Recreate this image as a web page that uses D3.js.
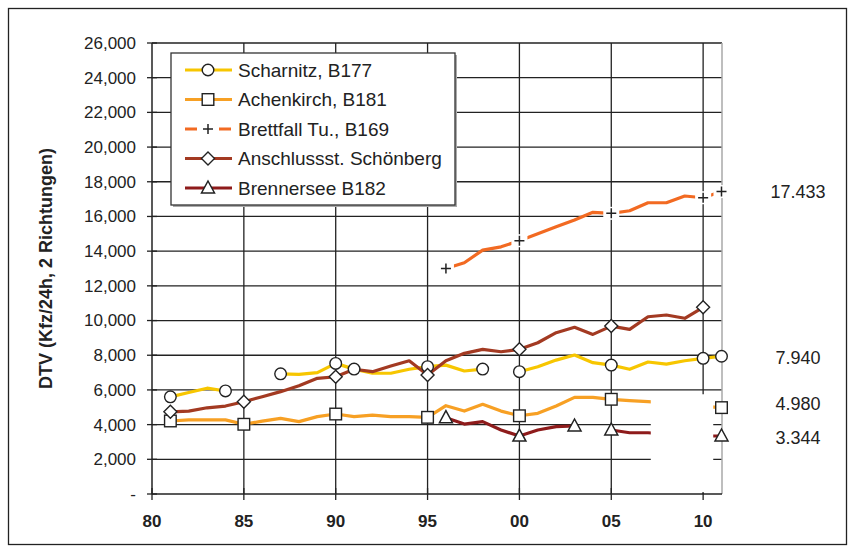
<!DOCTYPE html>
<html>
<head>
<meta charset="utf-8">
<script src="https://cdn.jsdelivr.net/npm/d3@7"></script>
<style>
  body { margin: 0; background: #fff; }
  svg text { font-family: "Liberation Sans", Arial, sans-serif; fill: #222; }
</style>
</head>
<body>
<svg id="chart" width="855" height="553"></svg>
<script>
// categories (years)
var years = [1981, 1982, 1983, 1984, 1985, 1986, 1987, 1988, 1989, 1990,
  1991, 1992, 1993, 1994, 1995, 1996, 1997, 1998, 1999, 2000,
  2001, 2002, 2003, 2004, 2005, 2006, 2007, 2008, 2009, 2010, 2011];

var scharnitz = [5600, 5850, 6100, 5940, null, null, 6930, 6900, 7000, 7530,
  7200, 6960, 6960, 7190, 7340, 7430, 7090, 7200, null, 7050,
  7340, 7720, 8010, 7570, 7430, 7190, 7610, 7490, 7680, 7820, 7940];
var achenkirch = [4210, 4270, 4270, 4270, 4020, 4200, 4360, 4170, 4460, 4610,
  4460, 4550, 4460, 4460, 4420, 5090, 4780, 5170, 4780, 4510,
  4650, 5070, 5570, 5570, 5460, 5380, 5320, 5250, 5150, 5050, 4980];
var brettfall = [null, null, null, null, null, null, null, null, null, null,
  null, null, null, null, null, 13000, 13330, 14060, 14250, 14600,
  15000, 15400, 15800, 16240, 16180, 16330, 16790, 16790, 17180, 17080, 17433];
var schoenberg = [4740, 4780, 4970, 5070, 5320, 5610, 5900, 6240, 6670, 6760,
  7190, 7050, 7380, 7680, 6860, 7680, 8110, 8340, 8200, 8340,
  8720, 9300, 9610, 9200, 9680, 9490, 10220, 10320, 10130, 10760, null];
var brennersee = [null, null, null, null, null, null, null, null, null, null,
  null, null, null, null, null, 4400, 4030, 4170, 3690, 3340,
  3690, 3880, 3920, null, 3690, 3530, 3530, 3450, 3400, 3344, 3344];

// years that carry a marker
var scharnitzMarks = [1981, 1984, 1987, 1990, 1991, 1995, 1998, 2000, 2005, 2010, 2011];
var achenkirchMarks = [1981, 1985, 1990, 1995, 2000, 2005, 2011];
var brettfallMarks = [1996, 2000, 2005, 2010, 2011];
var schoenbergMarks = [1981, 1985, 1990, 1995, 2000, 2005, 2010];
var brennerseeMarks = [1996, 2000, 2003, 2005, 2011];

var seriesNames = ["Scharnitz, B177", "Achenkirch, B181", "Brettfall Tu., B169",
  "Anschlussst. Schönberg", "Brennersee B182"];

// right-hand value labels
var endLabels = ["17.433", "7.940", "4.980", "3.344"];
var endValues = [17433, 7940, 4980, 3344];
var endNudge = [0, 1, -4, 2];

var yTicks = [0, 2000, 4000, 6000, 8000, 10000, 12000, 14000, 16000, 18000,
  20000, 22000, 24000, 26000];
var xTicks = [1980, 1985, 1990, 1995, 2000, 2005, 2010];
var xTickLabels = ["80", "85", "90", "95", "00", "05", "10"];

var series = [
  { name: seriesNames[0], values: scharnitz, marks: scharnitzMarks, color: "#f7c600", shape: "circle" },
  { name: seriesNames[1], values: achenkirch, marks: achenkirchMarks, color: "#f7a024", shape: "square" },
  { name: seriesNames[2], values: brettfall, marks: brettfallMarks, color: "#f26a22", shape: "plus" },
  { name: seriesNames[3], values: schoenberg, marks: schoenbergMarks, color: "#a33a22", shape: "diamond" },
  { name: seriesNames[4], values: brennersee, marks: brennerseeMarks, color: "#8e1b1b", shape: "triangle" }
];

var svg = d3.select("#chart");

var plotL = 152, plotR = 722, plotT = 43, plotB = 494;

var xScale = d3.scaleLinear().domain([1980, 2011]).range([plotL, plotR - 0.5]);
var yScale = d3.scaleLinear().domain([0, 26000]).range([plotB, plotT]);

// outer frame
svg.append("rect")
  .attr("x", 8.5).attr("y", 8.5)
  .attr("width", 838).attr("height", 536)
  .attr("fill", "none").attr("stroke", "#222").attr("stroke-width", 1.3);

var grid = svg.append("g").attr("class", "grid");

grid.selectAll("line.h")
  .data(yTicks.filter(function (d) { return d > 0; }))
  .enter().append("line")
  .attr("class", "h")
  .attr("x1", plotL).attr("x2", plotR)
  .attr("y1", function (d) { return yScale(d); })
  .attr("y2", function (d) { return yScale(d); })
  .attr("stroke", "#222").attr("stroke-width", 1.3);

grid.selectAll("line.v")
  .data(xTicks.filter(function (d) { return d > 1980; }))
  .enter().append("line")
  .attr("class", "v")
  .attr("x1", function (d) { return xScale(d); })
  .attr("x2", function (d) { return xScale(d); })
  .attr("y1", plotT).attr("y2", plotB)
  .attr("stroke", "#222").attr("stroke-width", 1.3);

// plot area right border
svg.append("line")
  .attr("x1", plotR).attr("x2", plotR)
  .attr("y1", plotT).attr("y2", plotB)
  .attr("stroke", "#a8a8a8").attr("stroke-width", 1.5);

// y axis
var yAxis = svg.append("g");
yAxis.append("line")
  .attr("x1", plotL).attr("x2", plotL).attr("y1", plotT).attr("y2", plotB)
  .attr("stroke", "#222").attr("stroke-width", 1.5);
yAxis.selectAll("line.tick")
  .data(yTicks)
  .enter().append("line")
  .attr("class", "tick")
  .attr("x1", plotL - 5).attr("x2", plotL + 5)
  .attr("y1", function (d) { return yScale(d); })
  .attr("y2", function (d) { return yScale(d); })
  .attr("stroke", "#222").attr("stroke-width", 1.3);
var fmt = d3.format(",");
yAxis.selectAll("text")
  .data(yTicks)
  .enter().append("text")
  .attr("x", 136)
  .attr("y", function (d) { return yScale(d); })
  .attr("dy", "0.35em")
  .attr("text-anchor", "end")
  .style("font-size", "17px")
  .text(function (d) { return d === 0 ? "-" : fmt(d); });

svg.append("text")
  .attr("transform", "translate(52," + (plotT + plotB) / 2 + ") rotate(-90)")
  .attr("text-anchor", "middle")
  .style("font-size", "18px")
  .style("font-weight", "bold")
  .text("DTV (Kfz/24h, 2 Richtungen)");

// x axis
var xAxis = svg.append("g");
xAxis.append("line")
  .attr("x1", plotL).attr("x2", plotR).attr("y1", plotB).attr("y2", plotB)
  .attr("stroke", "#222").attr("stroke-width", 1.5);
xAxis.selectAll("line.tick")
  .data(xTicks)
  .enter().append("line")
  .attr("class", "tick")
  .attr("x1", function (d) { return xScale(d); })
  .attr("x2", function (d) { return xScale(d); })
  .attr("y1", plotB - 6).attr("y2", plotB + 6)
  .attr("stroke", "#222").attr("stroke-width", 1.3);
xAxis.selectAll("text")
  .data(xTicks)
  .enter().append("text")
  .attr("x", function (d) { return xScale(d); })
  .attr("y", 521)
  .attr("dy", "0.35em")
  .attr("text-anchor", "middle")
  .style("font-size", "17px")
  .style("font-weight", "bold")
  .text(function (d, i) { return xTickLabels[i]; });

// lines
var line = d3.line()
  .defined(function (d) { return d.v !== null; })
  .x(function (d) { return xScale(d.year); })
  .y(function (d) { return yScale(d.v); });

series.forEach(function (s) {
  s.points = years.map(function (y, i) { return { year: y, v: s.values[i] }; });
});

svg.append("g").selectAll("path")
  .data(series)
  .enter().append("path")
  .attr("d", function (s) { return line(s.points); })
  .attr("fill", "none")
  .attr("stroke", function (s) { return s.color; })
  .attr("stroke-width", 3.2)
  .attr("stroke-linejoin", "round");

// white patch hiding part of the 2008-2010 area
svg.append("rect")
  .attr("x", xScale(2007.15))
  .attr("y", yScale(5750))
  .attr("width", xScale(2010.55) - xScale(2007.15))
  .attr("height", yScale(100) - yScale(5750))
  .attr("fill", "#fff");

function drawMarker(g, shape, color) {
  if (shape === "circle") {
    g.append("circle").attr("r", 5.8).attr("fill", "#fff").attr("stroke", "#222").attr("stroke-width", 1.4);
  } else if (shape === "square") {
    g.append("rect").attr("x", -5.8).attr("y", -5.8).attr("width", 11.6).attr("height", 11.6)
      .attr("fill", "#fff").attr("stroke", "#222").attr("stroke-width", 1.4);
  } else if (shape === "diamond") {
    g.append("path").attr("d", "M0,-6.5L6.5,0L0,6.5L-6.5,0Z")
      .attr("fill", "#fff").attr("stroke", "#222").attr("stroke-width", 1.4);
  } else if (shape === "triangle") {
    g.append("path").attr("d", "M0,-7L6.5,5L-6.5,5Z")
      .attr("fill", "#fff").attr("stroke", "#222").attr("stroke-width", 1.5);
  } else if (shape === "plus") {
    g.append("rect").attr("x", -8).attr("y", -6.5).attr("width", 16).attr("height", 13).attr("fill", "#fff");
    g.append("path").attr("d", "M-5,0H5M0,-5V5").attr("stroke", "#222").attr("stroke-width", 1.5);
  }
}

series.forEach(function (s) {
  var pts = s.points.filter(function (p) { return p.v !== null && s.marks.indexOf(p.year) >= 0; });
  pts.forEach(function (p) {
    var g = svg.append("g").attr("transform", "translate(" + xScale(p.year) + "," + yScale(p.v) + ")");
    drawMarker(g, s.shape, s.color);
  });
});

// end labels
svg.append("g").selectAll("text")
  .data(endLabels)
  .enter().append("text")
  .attr("x", 798)
  .attr("y", function (d, i) { return yScale(endValues[i]) + endNudge[i]; })
  .attr("dy", "0.35em")
  .attr("text-anchor", "middle")
  .style("font-size", "18px")
  .text(function (d) { return d; });

// legend
var lg = svg.append("g").attr("transform", "translate(171,53)");
lg.append("rect").attr("x", 2).attr("y", 2).attr("width", 284).attr("height", 152).attr("fill", "#aaa");
lg.append("rect").attr("x", 0).attr("y", 0).attr("width", 284).attr("height", 152)
  .attr("fill", "#fff").attr("stroke", "#333").attr("stroke-width", 1.3);

series.forEach(function (s, i) {
  var row = lg.append("g").attr("transform", "translate(0," + (17 + i * 29.5) + ")");
  row.append("line")
    .attr("x1", 14).attr("x2", 61)
    .attr("stroke", s.color).attr("stroke-width", 3.2)
    .attr("stroke-dasharray", s.shape === "plus" ? "12,5" : null);
  var m = row.append("g").attr("transform", "translate(37,0)");
  drawMarker(m, s.shape, s.color);
  row.append("text")
    .attr("x", 67).attr("y", 0).attr("dy", "0.35em")
    .style("font-size", "19px")
    .text(s.name);
});
</script>
</body>
</html>
